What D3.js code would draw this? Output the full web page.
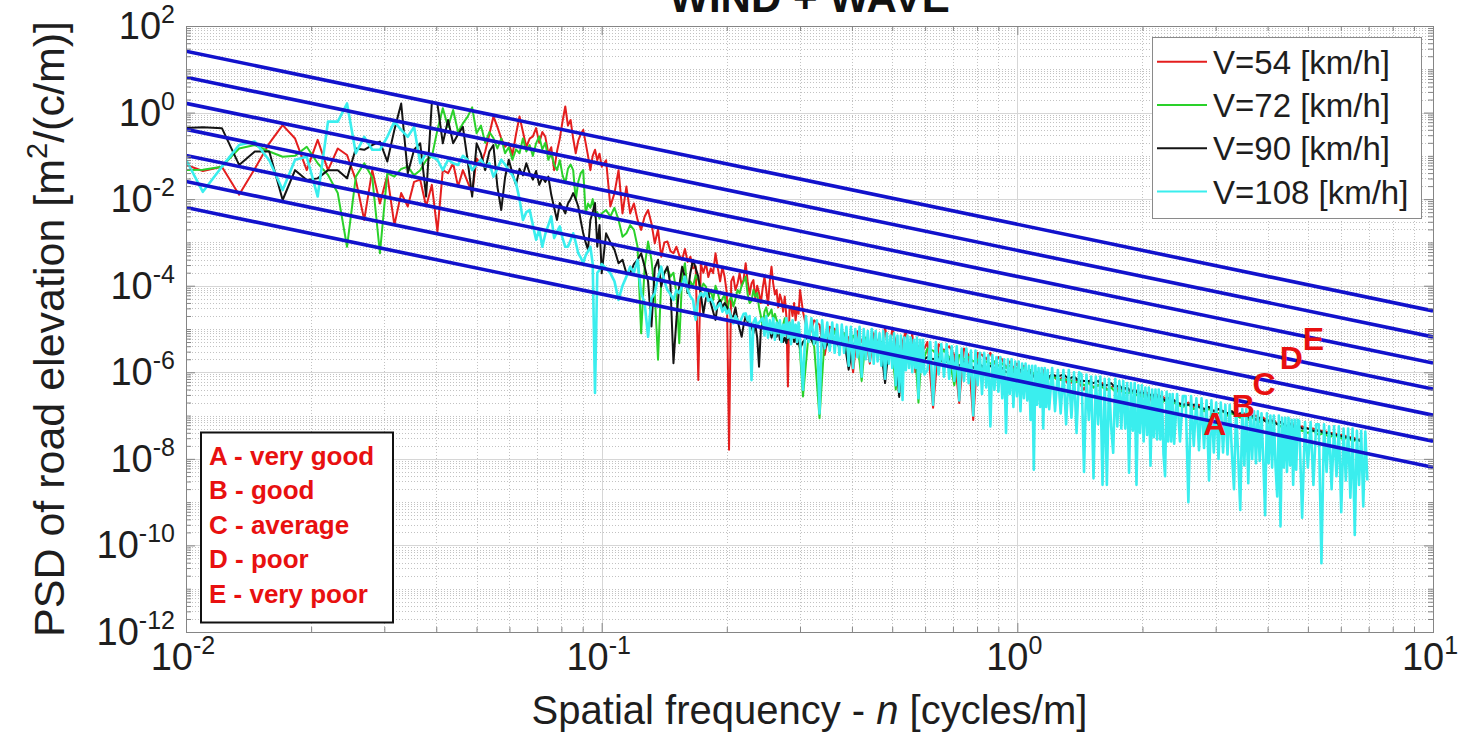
<!DOCTYPE html>
<html>
<head>
<meta charset="utf-8">
<script src="https://cdn.jsdelivr.net/npm/d3@7"></script>
<style>
  html, body { margin: 0; padding: 0; background: #fff; overflow: hidden; }
  svg { display: block; font-family: Arial, "Liberation Sans", Helvetica, sans-serif; }
</style>
</head>
<body>
<svg id="chart" width="1466" height="739"></svg>
<script>
// ---------------------------------------------------------------------------
// Data
// ---------------------------------------------------------------------------

// spectral resolution of the PSD estimate [cycles/m per bin]
const binWidth = 0.00122;

// sampling of each spectrum: [first bin, bin step, number of samples]
const gridCoarse = [[8,1,75],[84,2,82],[250,8,31],[498,16,31],[994,32,31],[1986,64,31],[3970,128,13]];
const gridFine   = [[8,1,75],[84,2,82],[250,4,61],[498,8,61],[994,16,61],[1986,32,61],[3970,64,28]];

const seriesNames = ["V=54 [km/h]", "V=72 [km/h]", "V=90 [km/h]", "V=108 [km/h]"];

// log10 of the PSD [m^2/(c/m)], one value per sample of the grid
const log10Psd54 = [
  -1.17,-1.35,-1.25,-1.90,-1.30,-0.71,-0.29,-0.60,-1.33,-0.63,
  -1.33,-0.83,-0.98,-1.56,-2.48,-1.33,-2.10,-1.45,-2.60,-1.86,
  -2.17,-1.60,-1.55,-2.17,-1.67,-2.75,-1.33,-1.40,-1.17,-1.71,
  -1.33,-1.60,-1.86,-1.06,-1.20,-0.90,-0.50,-0.09,-0.33,-0.60,
  -0.79,-0.70,-0.98,-0.50,-0.09,-0.45,-0.79,-0.60,-0.55,-0.36,
  -0.70,-0.45,-0.56,-0.95,-0.80,-1.33,-0.90,-0.60,-0.20,0.14,
  -0.30,-0.17,-0.60,-0.94,-0.65,-0.50,-0.40,-0.70,-1.00,-1.33,
  -1.00,-0.86,-1.10,-0.95,-1.25,
  -1.10,-2.17,-1.86,-1.33,-2.33,-1.71,-2.33,-2.10,-2.48,-2.71,
  -2.40,-2.25,-2.56,-3.02,-2.70,-3.33,-3.00,-2.98,-3.20,-3.25,
  -3.10,-3.30,-3.40,-3.15,-3.45,-3.33,-3.60,-3.56,-6.18,-3.50,
  -3.70,-3.48,-3.80,-3.60,-3.71,-3.25,-3.60,-3.90,-3.56,-3.80,
  -4.17,-7.79,-3.90,-3.79,-4.10,-3.95,-3.71,-4.00,-3.85,-3.48,
  -3.90,-4.20,-3.95,-3.87,-4.30,-4.00,-4.17,-4.40,-4.05,-3.79,
  -4.10,-4.45,-3.90,-3.56,-3.95,-4.20,-4.10,-4.50,-4.20,-4.33,
  -4.60,-4.25,-4.70,-6.33,-4.55,-4.48,-4.70,-4.40,-4.80,-4.50,
  -4.65,-4.10,
  -4.60,-5.20,-4.80,-4.90,-5.60,-4.95,-5.00,-5.40,-5.10,-5.20,
  -6.00,-5.05,-5.30,-5.20,-5.80,-5.10,-5.30,-5.50,-4.95,-5.60,
  -5.00,-5.30,-6.20,-5.30,-5.05,-5.70,-5.10,-6.00,-5.40,-5.50,
  -5.45,
  -5.30,-6.82,-5.35,-5.50,-5.40,-5.60,-6.71,-5.45,-5.60,-7.10,
  -5.55,-5.60,-5.70,-5.55,-5.80,-5.65,-5.70,-5.90,-5.75,-5.90,
  -5.80,-6.00,-5.85,-6.00,-5.95,-6.05,-6.00,-6.10,-5.95,-6.20,
  -6.10,
  -6.05,-6.20,-6.10,-6.30,-6.15,-6.25,-6.40,-6.20,-6.35,-6.30,
  -6.25,-6.40,-6.35,-6.30,-6.50,-6.35,-6.40,-6.45,-6.40,-6.45,
  -6.60,-6.45,-6.50,-6.70,-6.50,-6.55,-6.55,-6.60,-6.60,-6.75,
  -6.65,
  -6.70,-6.75,-6.70,-6.80,-6.75,-6.85,-6.80,-6.90,-6.85,-6.90,
  -6.95,-6.90,-7.00,-6.95,-6.95,-7.00,-7.05,-7.00,-7.10,-7.05,
  -7.10,-7.15,-7.10,-7.20,-7.15,-7.20,-7.25,-7.20,-7.20,-7.30,
  -7.25,
  -7.25,-7.30,-7.30,-7.35,-7.35,-7.40,-7.40,-7.45,-7.45,-7.50,
  -7.50,-7.55,-7.55
];

const log10Psd72 = [
  -1.33,-1.32,-1.25,-0.83,-0.75,-0.90,-1.02,-1.00,-0.79,-1.17,
  -1.44,-1.86,-3.10,-1.48,-1.17,-1.50,-3.25,-1.40,-1.48,-1.30,
  -1.25,-1.45,-1.33,-1.10,-1.02,-0.40,0.10,-0.33,0.06,-0.45,
  -0.25,-0.10,0.12,-0.48,-0.30,-0.70,-0.45,-0.59,-0.83,-0.60,
  -0.94,-0.80,-1.09,-0.85,-0.94,-0.60,-0.90,-0.75,-1.00,-0.71,
  -0.55,-0.85,-0.70,-1.09,-0.95,-1.20,-1.33,-1.10,-1.45,-1.63,
  -1.30,-1.20,-1.33,-2.02,-1.60,-1.40,-1.33,-2.33,-2.10,-2.20,
  -2.00,-2.40,-2.30,-2.45,-2.33,
  -2.25,-2.40,-2.20,-2.48,-2.87,-2.79,-2.60,-2.71,-3.10,-5.10,
  -3.56,-2.98,-3.40,-4.17,-5.71,-3.90,-3.71,-3.60,-3.79,-3.70,
  -4.17,-5.33,-3.80,-3.48,-4.17,-3.90,-4.02,-3.75,-3.87,-4.10,
  -3.95,-4.02,-4.25,-4.10,-4.33,-4.00,-4.17,-4.40,-4.30,-4.20,
  -4.64,-4.35,-4.25,-4.48,-4.30,-4.10,-4.17,-4.00,-3.90,-3.79,
  -4.20,-4.40,-4.35,-4.10,-4.25,-4.17,-4.50,-4.70,-4.94,-4.60,
  -4.50,-4.70,-4.64,-4.55,-4.80,-4.65,-4.79,-4.90,-4.85,-5.25,
  -4.90,-4.75,-4.95,-5.00,-4.85,-5.10,-4.94,-5.20,-5.00,-5.30,
  -5.10,-5.56,
  -6.56,-5.10,-5.40,-7.06,-5.18,-5.33,-5.05,-5.41,-5.10,-5.60,
  -5.15,-5.30,-6.20,-5.20,-5.40,-5.25,-5.50,-5.30,-5.70,-5.35,
  -5.45,-6.40,-5.40,-5.55,-5.45,-5.80,-5.50,-5.60,-6.70,-5.55,
  -5.65,
  -5.45,-5.50,-5.60,-5.50,-5.65,-6.30,-5.60,-5.70,-5.65,-5.75,
  -5.70,-5.90,-5.75,-5.80,-5.75,-5.85,-5.80,-5.90,-5.85,-5.95,
  -5.90,-5.95,-5.90,-6.00,-5.95,-6.05,-6.00,-6.10,-6.05,-6.10,
  -6.15,
  -6.10,-6.15,-6.20,-6.15,-6.25,-6.20,-6.30,-6.25,-6.35,-6.30,
  -6.35,-6.40,-6.35,-6.45,-6.40,-6.45,-6.50,-6.45,-6.50,-6.55,
  -6.50,-6.60,-6.55,-6.60,-6.65,-6.60,-6.70,-6.65,-6.70,-6.75,
  -6.70,
  -6.75,-6.80,-6.75,-6.85,-6.80,-6.90,-6.85,-6.90,-6.95,-6.90,
  -7.00,-6.95,-7.00,-7.05,-7.00,-7.10,-7.05,-7.10,-7.15,-7.10,
  -7.15,-7.20,-7.15,-7.20,-7.25,-7.20,-7.25,-7.30,-7.25,-7.30,
  -7.35,
  -7.35,-7.40,-7.35,-7.45,-7.40,-7.50,-7.45,-7.50,-7.55,-7.50,
  -7.60,-7.55,-7.60
];

const log10Psd90 = [
  -0.36,-0.34,-0.36,-1.21,-0.90,-0.90,-2.02,-1.33,-1.56,-1.52,
  -1.33,-1.33,-1.52,-0.83,-0.86,-0.75,-0.67,-1.13,-0.40,0.21,
  -1.40,-0.86,-0.71,-1.94,0.25,0.20,-0.71,-0.17,-0.71,-0.50,
  -0.33,-1.10,-1.94,-0.71,-0.95,-1.33,-0.90,-0.75,-1.71,-2.25,
  -1.50,-1.09,-1.40,-1.67,-1.30,-1.45,-1.17,-1.40,-1.55,-1.35,
  -1.67,-1.50,-1.60,-1.48,-1.90,-2.20,-2.48,-2.09,-2.20,-2.33,
  -2.10,-2.00,-1.86,-2.00,-2.17,-2.50,-2.79,-3.00,-3.17,-2.48,
  -2.30,-2.09,-3.10,-2.60,-3.71,
  -2.79,-3.00,-3.17,-3.48,-3.40,-3.71,-3.71,-3.50,-3.40,-3.25,
  -3.56,-3.90,-4.94,-3.60,-3.40,-4.02,-3.70,-3.56,-4.00,-5.79,
  -4.79,-4.00,-3.56,-3.80,-4.17,-3.70,-3.40,-3.60,-3.79,-4.20,
  -4.64,-4.30,-4.17,-4.40,-4.60,-4.79,-4.40,-4.33,-4.50,-4.40,
  -4.48,-4.60,-4.71,-4.71,-4.50,-4.80,-5.00,-5.18,-4.90,-4.70,
  -4.85,-4.79,-4.95,-5.10,-4.90,-5.20,-5.87,-5.00,-4.90,-5.05,
  -4.94,-5.10,-5.00,-5.20,-5.05,-5.15,-5.18,-5.00,-5.25,-5.10,
  -5.30,-5.20,-5.33,-5.10,-5.25,-5.15,-5.02,-5.30,-5.18,-5.35,
  -5.25,-5.45,
  -5.30,-5.15,-5.35,-5.20,-5.45,-5.25,-5.30,-5.40,-5.25,-5.94,
  -5.35,-5.30,-5.45,-5.35,-5.50,-5.40,-5.35,-5.55,-6.25,-5.45,
  -5.50,-5.60,-6.57,-5.50,-5.55,-5.65,-5.55,-5.60,-6.10,-5.65,
  -5.70,
  -5.65,-5.70,-5.65,-5.80,-5.70,-5.75,-5.85,-5.75,-5.80,-5.90,
  -5.80,-5.85,-5.95,-5.85,-5.90,-6.00,-5.90,-6.00,-5.95,-6.00,
  -6.05,-5.95,-6.05,-6.10,-6.00,-6.10,-6.15,-6.05,-6.15,-6.20,
  -6.10,
  -6.05,-6.10,-6.05,-6.15,-6.10,-6.20,-6.20,-6.20,-6.25,-6.20,
  -6.30,-6.30,-6.25,-6.35,-6.30,-6.40,-6.35,-6.45,-6.40,-6.50,
  -6.45,-6.50,-6.55,-6.50,-6.60,-6.55,-6.60,-6.65,-6.60,-6.70,
  -6.65,
  -6.70,-6.75,-6.75,-6.75,-6.80,-6.85,-6.80,-6.90,-6.85,-6.90,
  -6.95,-6.90,-7.00,-6.95,-7.00,-7.05,-7.00,-7.10,-7.05,-7.10,
  -7.15,-7.10,-7.15,-7.20,-7.15,-7.20,-7.25,-7.20,-7.25,-7.30,
  -7.25,
  -7.30,-7.30,-7.35,-7.35,-7.40,-7.40,-7.45,-7.45,-7.50,-7.50,
  -7.55,-7.55,-7.60
];

const log10Psd108 = [
  -0.90,-1.83,-1.25,-0.75,-0.67,-1.10,-1.79,-1.09,-1.02,-1.94,
  -0.21,-0.21,0.21,-0.94,-0.56,-0.86,-0.86,-0.56,-0.21,-0.40,
  -0.56,-0.33,-1.17,-0.94,-1.02,-1.09,-1.33,-1.09,-1.17,-1.21,
  -1.00,-1.09,-1.33,-1.20,-1.09,-1.25,-1.17,-1.48,-1.30,-1.09,
  -1.20,-1.33,-1.45,-1.63,-2.00,-2.48,-2.30,-2.25,-2.60,-2.94,
  -2.70,-3.10,-2.80,-2.60,-2.40,-2.90,-2.75,-2.63,-2.90,-3.10,
  -3.10,-2.95,-2.79,-3.00,-3.25,-3.35,-3.48,-3.30,-3.20,-3.10,
  -3.50,-6.48,-3.70,-3.64,-3.50,
  -3.60,-3.71,-3.90,-4.33,-4.00,-3.79,-3.56,-3.70,-3.40,-4.17,
  -4.40,-5.18,-4.30,-4.17,-3.80,-3.56,-3.90,-4.10,-4.20,-4.33,
  -4.10,-4.17,-4.00,-3.79,-4.10,-4.25,-4.33,-4.79,-4.30,-4.17,
  -4.25,-4.10,-4.35,-4.30,-4.40,-4.55,-4.48,-4.40,-4.60,-4.50,
  -4.64,-4.55,-4.75,-4.87,-4.70,-4.80,-4.87,-4.75,-4.65,-4.64,
  -4.80,-4.70,-6.18,-4.85,-4.75,-4.94,-4.85,-4.80,-4.75,-5.15,
  -4.70,-5.20,-4.80,-5.10,-4.75,-5.25,-4.85,-5.10,-4.80,-5.30,
  -4.90,-5.15,-4.75,-5.20,-4.85,-5.35,-4.80,-5.20,-4.90,-5.30,
  -4.85,-5.25,
  -6.40,-4.70,-5.30,-4.75,-5.35,-4.80,-6.95,-4.80,-5.45,-4.85,
  -5.50,-4.85,-5.55,-4.90,-5.60,-4.90,-5.55,-4.95,-5.85,-4.95,
  -5.90,-5.00,-5.65,-4.95,-6.10,-5.00,-5.70,-5.05,-5.75,-5.00,
  -5.80,-5.05,-5.75,-5.10,-5.85,-5.05,-6.15,-5.10,-5.80,-5.15,
  -5.90,-5.10,-6.30,-5.15,-6.45,-5.15,-6.64,-5.20,-5.95,-5.15,
  -5.90,-5.20,-6.00,-5.25,-5.90,-5.20,-6.60,-5.25,-6.00,-5.25,
  -6.05,
  -5.95,-5.30,-6.75,-5.30,-6.05,-5.35,-6.10,-5.35,-6.15,-5.40,
  -6.20,-5.40,-6.65,-5.45,-6.20,-5.45,-6.25,-5.50,-7.00,-5.50,
  -6.30,-5.55,-6.50,-5.55,-6.35,-5.60,-7.25,-5.60,-6.40,-5.65,
  -6.45,-5.65,-6.60,-5.70,-7.40,-5.70,-6.50,-5.70,-6.80,-5.75,
  -6.55,-5.75,-6.90,-5.80,-6.60,-5.80,-6.65,-5.85,-7.10,-5.85,
  -8.25,-5.85,-6.75,-5.90,-6.80,-5.90,-7.30,-5.90,-6.80,-5.95,
  -6.85,
  -5.90,-6.90,-5.95,-6.95,-5.95,-7.20,-5.95,-7.05,-6.00,-7.40,
  -6.00,-6.05,-8.30,-6.05,-7.10,-6.10,-8.45,-6.10,-7.20,-6.10,
  -8.60,-6.15,-8.60,-6.15,-7.25,-7.86,-6.15,-7.25,-6.20,-7.30,
  -6.20,-7.30,-6.25,-8.32,-6.25,-7.35,-6.25,-8.60,-6.30,-7.40,
  -6.30,-7.60,-6.35,-7.45,-6.35,-8.16,-6.40,-7.50,-6.40,-7.55,
  -6.40,-7.55,-6.45,-7.90,-8.40,-6.45,-7.60,-6.50,-7.60,-6.50,
  -7.65,
  -6.50,-7.60,-6.55,-6.55,-9.00,-6.55,-7.70,-6.60,-7.80,-6.60,
  -7.75,-6.65,-8.50,-6.65,-7.85,-6.70,-8.00,-6.70,-7.85,-6.75,
  -7.90,-6.75,-7.85,-8.70,-6.80,-7.95,-9.18,-6.85,-8.15,-6.85,
  -8.56,-6.85,-8.00,-6.90,-8.10,-6.90,-8.05,-6.95,-8.05,-9.30,
  -6.95,-8.10,-7.00,-8.20,-7.00,-8.15,-8.87,-7.00,-9.56,-7.05,
  -8.20,-7.05,-8.30,-7.05,-8.15,-7.10,-8.60,-7.10,-8.25,-7.10,
  -7.12,
  -9.36,-7.15,-8.20,-7.15,-8.60,-7.20,-7.20,-10.41,-7.20,-8.30,
  -7.25,-8.70,-7.25,-8.40,-7.25,-9.23,-7.30,-8.50,-7.30,-8.90,
  -7.30,-9.76,-7.35,-8.60,-7.35,-9.10,-7.37,-8.50
];

// road classes (ISO 8608 style lines), PSD at n = 0.01 and n = 10 cycles/m
const gradeFreq = [0.01, 10];
const gradeAtLow  = [6.4e-3, 2.56e-2, 1.024e-1, 4.096e-1, 1.6384, 6.5536, 26.2144];
const gradeAtHigh = [6.4e-9, 2.56e-8, 1.024e-7, 4.096e-7, 1.6384e-6, 6.5536e-6, 2.62144e-5];

// class letters written on the lines
const gradeLetters = ["A", "B", "C", "D", "E"];
const gradeLetterN = [2.80, 3.28, 3.68, 4.28, 4.86];
const gradeLetterPsd = [6.8e-8, 1.78e-7, 5.7e-7, 2.26e-6, 6.2e-6];
const gradeNames = ["A - very good", "B - good", "C - average", "D - poor", "E - very poor"];

// axis ticks (powers of ten)
const xTickExp = [-2, -1, 0, 1];
const yTickExp = [2, 0, -2, -4, -6, -8, -10, -12];

// ---------------------------------------------------------------------------
// Styles and layout
// ---------------------------------------------------------------------------
const seriesColors = ["#e41e1e", "#2ad12a", "#141414", "#3aeeee"];
const seriesWidths = [2, 2, 2, 2.6];
const gradeColor = "#1212cc";
const labelRed = "#e81010";
const axisColor = "#858585";
const textColor = "#1e1e1e";

const m = { l: 186, r: 1433, t: 26, b: 632 };

const svg = d3.select("#chart");
const x = d3.scaleLog().domain([1e-2, 1e1]).range([m.l, m.r]);
const y = d3.scaleLog().domain([1e-12, 1e2]).range([m.b, m.t]);

svg.append("defs").append("clipPath").attr("id", "plotClip")
  .append("rect").attr("x", m.l).attr("y", m.t)
  .attr("width", m.r - m.l).attr("height", m.b - m.t);

// ---------------------------------------------------------------------------
// Grid
// ---------------------------------------------------------------------------
const xMinor = [1e-2, 1e-1, 1].flatMap(d => d3.range(2, 10).map(k => k * d));
const xMajorInner = [1e-1, 1];
const yMinor = [];
for (let e = -12; e < 2; e++) {
  for (let k = 1; k < 10; k++) {
    if (k === 1 && Math.abs(e) % 2 === 0) continue;
    yMinor.push(k * Math.pow(10, e));
  }
}
const yMajorInner = d3.range(-10, 1, 2).map(e => Math.pow(10, e));
const px = v => Math.round(v) + 0.5;

const grid = svg.append("g").attr("shape-rendering", "crispEdges");
grid.selectAll("line.gx").data(xMinor).join("line")
  .attr("x1", d => px(x(d))).attr("x2", d => px(x(d)))
  .attr("y1", m.t).attr("y2", m.b)
  .attr("stroke", "#c2c2c2").attr("stroke-dasharray", "1,2");
grid.selectAll("line.gy").data(yMinor).join("line")
  .attr("y1", d => px(y(d))).attr("y2", d => px(y(d)))
  .attr("x1", m.l).attr("x2", m.r)
  .attr("stroke", "#c2c2c2").attr("stroke-dasharray", "1,2");
grid.selectAll("line.Gx").data(xMajorInner).join("line")
  .attr("x1", d => px(x(d))).attr("x2", d => px(x(d)))
  .attr("y1", m.t).attr("y2", m.b)
  .attr("stroke", "#d6d6d6");
grid.selectAll("line.Gy").data(yMajorInner).join("line")
  .attr("y1", d => px(y(d))).attr("y2", d => px(y(d)))
  .attr("x1", m.l).attr("x2", m.r)
  .attr("stroke", "#d6d6d6");

// ---------------------------------------------------------------------------
// Spectra
// ---------------------------------------------------------------------------
function spectrum(gridSpec, lg) {
  const pts = [];
  let idx = 0;
  for (const [k0, step, count] of gridSpec) {
    for (let i = 0; i < count; i++, idx++) {
      if (idx < lg.length) pts.push([(k0 + i * step) * binWidth, Math.pow(10, lg[idx])]);
    }
  }
  return pts;
}

const series = [
  { name: seriesNames[0], color: seriesColors[0], width: seriesWidths[0], pts: spectrum(gridCoarse, log10Psd54) },
  { name: seriesNames[1], color: seriesColors[1], width: seriesWidths[1], pts: spectrum(gridCoarse, log10Psd72) },
  { name: seriesNames[2], color: seriesColors[2], width: seriesWidths[2], pts: spectrum(gridCoarse, log10Psd90) },
  { name: seriesNames[3], color: seriesColors[3], width: seriesWidths[3], pts: spectrum(gridFine, log10Psd108) }
];

const line = d3.line().x(d => x(d[0])).y(d => y(d[1]));
const plot = svg.append("g").attr("clip-path", "url(#plotClip)");
plot.selectAll("path.psd").data(series).join("path")
  .attr("class", "psd")
  .attr("d", d => line(d.pts))
  .attr("fill", "none")
  .attr("stroke", d => d.color)
  .attr("stroke-width", d => d.width)
  .attr("stroke-linejoin", "round");

// road class lines
const grades = gradeAtLow.map((v, i) => [[gradeFreq[0], v], [gradeFreq[1], gradeAtHigh[i]]]);
plot.selectAll("path.grade").data(grades).join("path")
  .attr("class", "grade")
  .attr("d", line)
  .attr("fill", "none")
  .attr("stroke", gradeColor)
  .attr("stroke-width", 3.6);

// ---------------------------------------------------------------------------
// Axes (ticks pointing inwards on all four sides)
// ---------------------------------------------------------------------------
const xMajor = xTickExp.map(e => Math.pow(10, e));
const yMajor = yTickExp.map(e => Math.pow(10, e));
function tidy(g) {
  g.select(".domain").remove();
  g.selectAll(".tick text").remove();
  g.selectAll(".tick line").attr("stroke", axisColor);
}
const axes = svg.append("g");
axes.append("g").attr("transform", `translate(0,${m.b})`).call(d3.axisBottom(x).tickValues(xMajor).tickSize(-9)).call(tidy);
axes.append("g").attr("transform", `translate(0,${m.b})`).call(d3.axisBottom(x).tickValues(xMinor).tickSize(-5)).call(tidy);
axes.append("g").attr("transform", `translate(0,${m.t})`).call(d3.axisTop(x).tickValues(xMajor).tickSize(-9)).call(tidy);
axes.append("g").attr("transform", `translate(0,${m.t})`).call(d3.axisTop(x).tickValues(xMinor).tickSize(-5)).call(tidy);
axes.append("g").attr("transform", `translate(${m.l},0)`).call(d3.axisLeft(y).tickValues(yMajor).tickSize(-9)).call(tidy);
axes.append("g").attr("transform", `translate(${m.l},0)`).call(d3.axisLeft(y).tickValues(yMinor).tickSize(-5)).call(tidy);
axes.append("g").attr("transform", `translate(${m.r},0)`).call(d3.axisRight(y).tickValues(yMajor).tickSize(-9)).call(tidy);
axes.append("g").attr("transform", `translate(${m.r},0)`).call(d3.axisRight(y).tickValues(yMinor).tickSize(-5)).call(tidy);
axes.append("rect")
  .attr("x", m.l + 0.5).attr("y", m.t + 0.5)
  .attr("width", m.r - m.l).attr("height", m.b - m.t)
  .attr("fill", "none").attr("stroke", axisColor).attr("shape-rendering", "crispEdges");

// tick labels 10^k
function powerLabel(sel, e) {
  sel.append("tspan").text("10");
  sel.append("tspan").attr("dy", -16).attr("font-size", 25).text(String(e));
}
svg.append("g").selectAll("text").data(xTickExp).join("text")
  .attr("x", e => x(Math.pow(10, e)) - 3)
  .attr("y", 670)
  .attr("text-anchor", "middle")
  .attr("font-size", 38)
  .attr("fill", textColor)
  .each(function (e) { powerLabel(d3.select(this), e); });
svg.append("g").selectAll("text").data(yTickExp).join("text")
  .attr("x", 175)
  .attr("y", e => y(Math.pow(10, e)) + 13)
  .attr("text-anchor", "end")
  .attr("font-size", 38)
  .attr("fill", textColor)
  .each(function (e) { powerLabel(d3.select(this), e); });

// axis titles
const xt = svg.append("text")
  .attr("x", (m.l + m.r) / 2).attr("y", 724)
  .attr("text-anchor", "middle").attr("font-size", 40).attr("fill", textColor);
xt.append("tspan").text("Spatial frequency - ");
xt.append("tspan").attr("font-style", "italic").text("n");
xt.append("tspan").text(" [cycles/m]");

const yt = svg.append("text")
  .attr("transform", `translate(64,${(m.t + m.b) / 2}) rotate(-90)`)
  .attr("text-anchor", "middle").attr("font-size", 43).attr("fill", textColor);
yt.append("tspan").text("PSD of road elevation [m");
yt.append("tspan").attr("dy", -17).attr("font-size", 29).text("2");
yt.append("tspan").attr("dy", 17).text("/(c/m)]");

// title (its upper part lies above the figure edge)
svg.append("text")
  .attr("x", (m.l + m.r) / 2).attr("y", 12)
  .attr("text-anchor", "middle").attr("font-size", 42).attr("font-weight", "bold")
  .attr("fill", "#111").text("WIND + WAVE");

// class letters on the lines
svg.append("g").selectAll("text").data(gradeLetters).join("text")
  .attr("x", (d, i) => x(gradeLetterN[i]))
  .attr("y", (d, i) => y(gradeLetterPsd[i]) + 12)
  .attr("font-size", 32).attr("font-weight", "bold")
  .attr("fill", labelRed).text(d => d);

// ---------------------------------------------------------------------------
// Legends
// ---------------------------------------------------------------------------
const lg = svg.append("g");
lg.append("rect").attr("x", 1152.5).attr("y", 37.5).attr("width", 269).attr("height", 181)
  .attr("fill", "#fff").attr("stroke", "#8a8a8a").attr("shape-rendering", "crispEdges");
const rows = lg.selectAll("g.row").data(series).join("g")
  .attr("transform", (d, i) => `translate(0,${61.7 + i * 43.3})`);
rows.append("line").attr("x1", 1157).attr("x2", 1207).attr("y1", 0).attr("y2", 0)
  .attr("stroke", d => d.color).attr("stroke-width", 2);
rows.append("text").attr("x", 1213).attr("y", 12)
  .attr("font-size", 33).attr("fill", textColor).text(d => d.name);

const cg = svg.append("g");
cg.append("rect").attr("x", 201).attr("y", 432.5).attr("width", 192).attr("height", 190)
  .attr("fill", "#fff").attr("stroke", "#111").attr("stroke-width", 2);
cg.selectAll("text").data(gradeNames).join("text")
  .attr("x", 209).attr("y", (d, i) => 465 + i * 34.4)
  .attr("font-size", 26).attr("font-weight", "bold")
  .attr("fill", labelRed).text(d => d);
</script>
</body>
</html>
